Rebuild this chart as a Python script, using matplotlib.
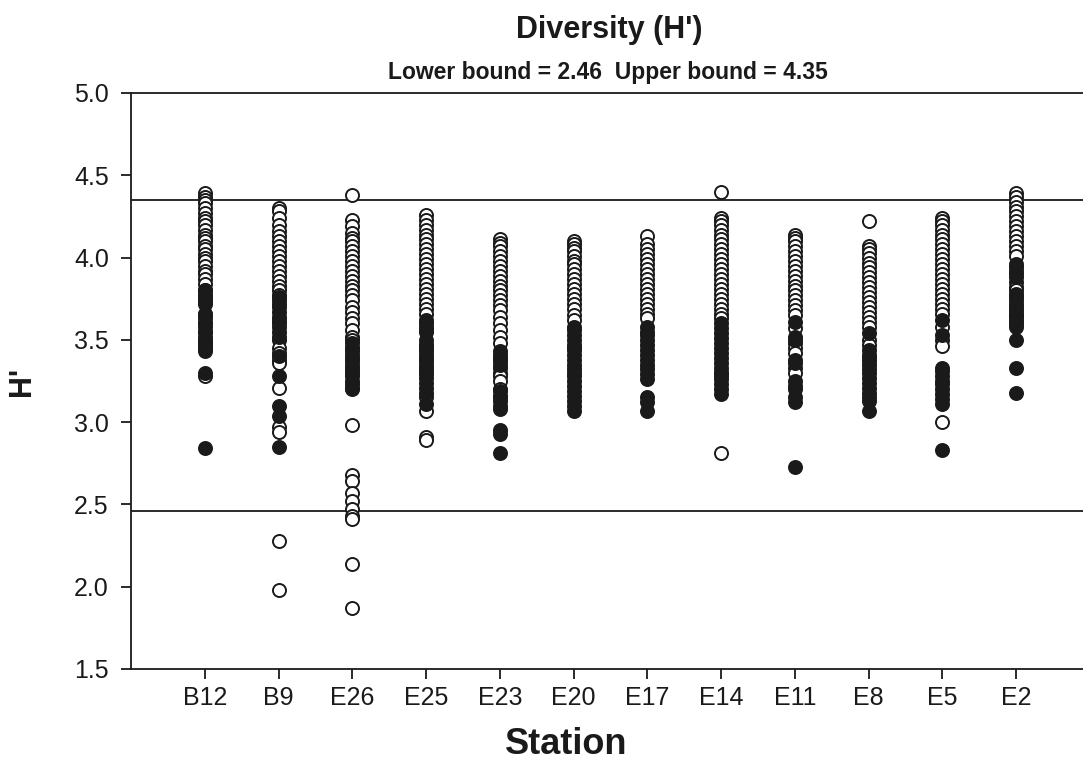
import matplotlib
matplotlib.use("Agg")
import matplotlib.pyplot as plt

plt.rcParams['font.family'] = ['Liberation Sans', 'DejaVu Sans']

stations = ["B12", "B9", "E26", "E25", "E23", "E20", "E17", "E14", "E11", "E8", "E5", "E2"]
lower_bound = 2.46
upper_bound = 4.35
y_ticks = [1.5, 2.0, 2.5, 3.0, 3.5, 4.0, 4.5, 5.0]

b12_open = [4.39, 4.37, 4.35, 4.33, 4.30, 4.27, 4.24, 4.22, 4.20, 4.17, 4.14, 4.12, 4.10, 4.07, 4.05, 4.02,
            4.00, 3.98, 3.95, 3.92, 3.90, 3.87, 3.84, 3.80, 3.76, 3.72, 3.66, 3.60, 3.55, 3.50, 3.45, 3.28]
b12_filled = [3.80, 3.78, 3.75, 3.73, 3.66, 3.63, 3.60, 3.58, 3.55, 3.52, 3.49, 3.47, 3.45, 3.43, 3.30, 2.84]

b9_open = [4.30, 4.28, 4.24, 4.20, 4.16, 4.13, 4.10, 4.07, 4.04, 4.01, 3.98, 3.95, 3.92, 3.89, 3.86, 3.83,
           3.80, 3.77, 3.60, 3.50, 3.45, 3.42, 3.38, 3.36, 3.21, 2.97, 2.94, 2.28, 1.98]
b9_filled = [3.76, 3.74, 3.72, 3.70, 3.67, 3.64, 3.62, 3.58, 3.55, 3.52, 3.40, 3.28, 3.10, 3.04, 2.85]

e26_open = [4.38, 4.23, 4.19, 4.15, 4.12, 4.10, 4.07, 4.04, 4.01, 3.98, 3.95, 3.92, 3.89, 3.86, 3.83, 3.80,
            3.77, 3.74, 3.70, 3.67, 3.63, 3.60, 3.56, 3.52, 3.50, 3.45, 3.30, 2.98, 2.68, 2.64, 2.57, 2.52,
            2.47, 2.43, 2.41, 2.14, 1.87]
e26_filled = [3.48, 3.45, 3.43, 3.41, 3.39, 3.37, 3.35, 3.33, 3.31, 3.28, 3.25, 3.23, 3.21, 3.20]

e25_open = [4.26, 4.23, 4.20, 4.17, 4.14, 4.11, 4.08, 4.05, 4.02, 3.99, 3.96, 3.93, 3.90, 3.87, 3.84, 3.81,
            3.78, 3.75, 3.72, 3.69, 3.66, 3.60, 3.55, 3.47, 3.15, 3.07, 2.91, 2.89]
e25_filled = [3.62, 3.58, 3.56, 3.50, 3.47, 3.45, 3.43, 3.41, 3.39, 3.37, 3.35, 3.33, 3.31, 3.29, 3.27, 3.24,
              3.21, 3.18, 3.11]

e23_open = [4.11, 4.09, 4.07, 4.04, 4.01, 3.98, 3.95, 3.92, 3.89, 3.86, 3.83, 3.80, 3.77, 3.74, 3.71, 3.68,
            3.64, 3.60, 3.56, 3.52, 3.48, 3.33, 3.30, 3.28, 3.25, 3.20, 3.15]
e23_filled = [3.43, 3.41, 3.39, 3.37, 3.35, 3.19, 3.16, 3.13, 3.10, 3.08, 2.95, 2.93, 2.81]

e20_open = [4.10, 4.08, 4.06, 4.04, 4.01, 3.98, 3.96, 3.93, 3.90, 3.87, 3.84, 3.81, 3.78, 3.75, 3.72, 3.69,
            3.65, 3.62, 3.45, 3.32, 3.30, 3.25]
e20_filled = [3.58, 3.56, 3.53, 3.50, 3.47, 3.44, 3.41, 3.38, 3.35, 3.28, 3.22, 3.19, 3.16, 3.13, 3.10, 3.07]

e17_open = [4.13, 4.08, 4.05, 4.02, 3.99, 3.96, 3.93, 3.90, 3.87, 3.84, 3.81, 3.78, 3.75, 3.72, 3.69, 3.66, 3.63]
e17_filled = [3.58, 3.55, 3.53, 3.50, 3.47, 3.44, 3.41, 3.38, 3.35, 3.32, 3.29, 3.26, 3.15, 3.12, 3.07]

e14_open = [4.40, 4.24, 4.22, 4.20, 4.17, 4.14, 4.11, 4.08, 4.05, 4.02, 3.99, 3.96, 3.93, 3.90, 3.87, 3.84,
            3.81, 3.78, 3.75, 3.72, 3.69, 3.66, 3.63, 3.30, 3.28, 2.81]
e14_filled = [3.60, 3.57, 3.54, 3.51, 3.48, 3.45, 3.42, 3.39, 3.36, 3.33, 3.30, 3.26, 3.23, 3.20, 3.17]

e11_open = [4.14, 4.12, 4.10, 4.07, 4.04, 4.01, 3.98, 3.95, 3.92, 3.89, 3.86, 3.83, 3.80, 3.77, 3.74, 3.71,
            3.68, 3.65, 3.57, 3.48, 3.45, 3.42, 3.33, 3.30, 3.20]
e11_filled = [3.61, 3.52, 3.50, 3.38, 3.36, 3.25, 3.22, 3.15, 3.12, 2.73]

e8_open = [4.22, 4.07, 4.05, 4.03, 4.00, 3.97, 3.94, 3.91, 3.88, 3.85, 3.82, 3.79, 3.76, 3.73, 3.70, 3.67,
           3.64, 3.61, 3.58, 3.50, 3.47]
e8_filled = [3.54, 3.44, 3.41, 3.39, 3.37, 3.35, 3.32, 3.30, 3.27, 3.24, 3.21, 3.18, 3.15, 3.13, 3.07]

e5_open = [4.24, 4.22, 4.20, 4.17, 4.14, 4.11, 4.08, 4.05, 4.02, 3.99, 3.96, 3.93, 3.90, 3.87, 3.84, 3.81,
           3.78, 3.75, 3.72, 3.69, 3.66, 3.58, 3.50, 3.46, 3.00]
e5_filled = [3.62, 3.53, 3.33, 3.31, 3.28, 3.25, 3.23, 3.20, 3.17, 3.14, 3.11, 2.83]

e2_open = [4.39, 4.37, 4.34, 4.31, 4.28, 4.25, 4.22, 4.19, 4.16, 4.13, 4.10, 4.07, 4.04, 4.01, 3.85, 3.82,
           3.80, 3.65, 3.60]
e2_filled = [3.96, 3.94, 3.92, 3.90, 3.88, 3.78, 3.76, 3.74, 3.72, 3.70, 3.68, 3.66, 3.64, 3.62, 3.60, 3.58,
             3.50, 3.33, 3.18]

open_values = [b12_open, b9_open, e26_open, e25_open, e23_open, e20_open,
               e17_open, e14_open, e11_open, e8_open, e5_open, e2_open]
filled_values = [b12_filled, b9_filled, e26_filled, e25_filled, e23_filled, e20_filled,
                 e17_filled, e14_filled, e11_filled, e8_filled, e5_filled, e2_filled]

W, H = 1083, 765
fig = plt.figure(figsize=(W / 100, H / 100), dpi=100)
left_px, right_px, top_px, bottom_px = 131, 1090, 93, 669
ax = fig.add_axes([left_px / W, 1 - bottom_px / H, (right_px - left_px) / W, (bottom_px - top_px) / H])

ink = '#1a1a1a'
ms = 88
for i, (ov, fv) in enumerate(zip(open_values, filled_values)):
    xpos = i + 1
    ax.scatter([xpos] * len(ov), ov, s=ms, facecolor='white', edgecolor=ink, linewidth=1.4, zorder=3)
    ax.scatter([xpos] * len(fv), fv, s=ms, facecolor=ink, edgecolor=ink, linewidth=1.4, zorder=4)

ax.axhline(lower_bound, color=ink, lw=1.3, zorder=2)
ax.axhline(upper_bound, color=ink, lw=1.3, zorder=2)

ax.set_xlim(0, 13)
ax.set_ylim(1.5, 5.0)
ax.set_yticks(y_ticks)
ax.set_yticklabels([f"{v:.1f}" for v in y_ticks])
ax.set_xticks(range(1, len(stations) + 1))
ax.set_xticklabels(stations)

for side in ['left', 'bottom', 'top']:
    ax.spines[side].set_color(ink)
    ax.spines[side].set_linewidth(1.3)
ax.spines['right'].set_visible(False)

ax.tick_params(axis='y', direction='out', length=7, width=1.3, color=ink, labelsize=18, pad=9, labelcolor=ink)
ax.tick_params(axis='x', direction='out', length=7, width=1.3, color=ink, labelsize=18, pad=5, labelcolor=ink)

fig.text(0.563, 1 - 30 / H, "Diversity (H')", ha='center', va='center', fontsize=22, fontweight='bold', color=ink)
fig.text(0.561, 1 - 72 / H, "Lower bound = 2.46  Upper bound = 4.35", ha='center', va='center',
         fontsize=16.5, fontweight='bold', color=ink)
fig.text(566 / W, 1 - 745 / H, "Station", ha='center', va='center', fontsize=26, fontweight='bold', color=ink)
fig.text(22 / W, 1 - 381 / H, "H'", ha='center', va='center', rotation=90, fontsize=22, fontweight='bold', color=ink)

fig.savefig("out.png", dpi=100)
